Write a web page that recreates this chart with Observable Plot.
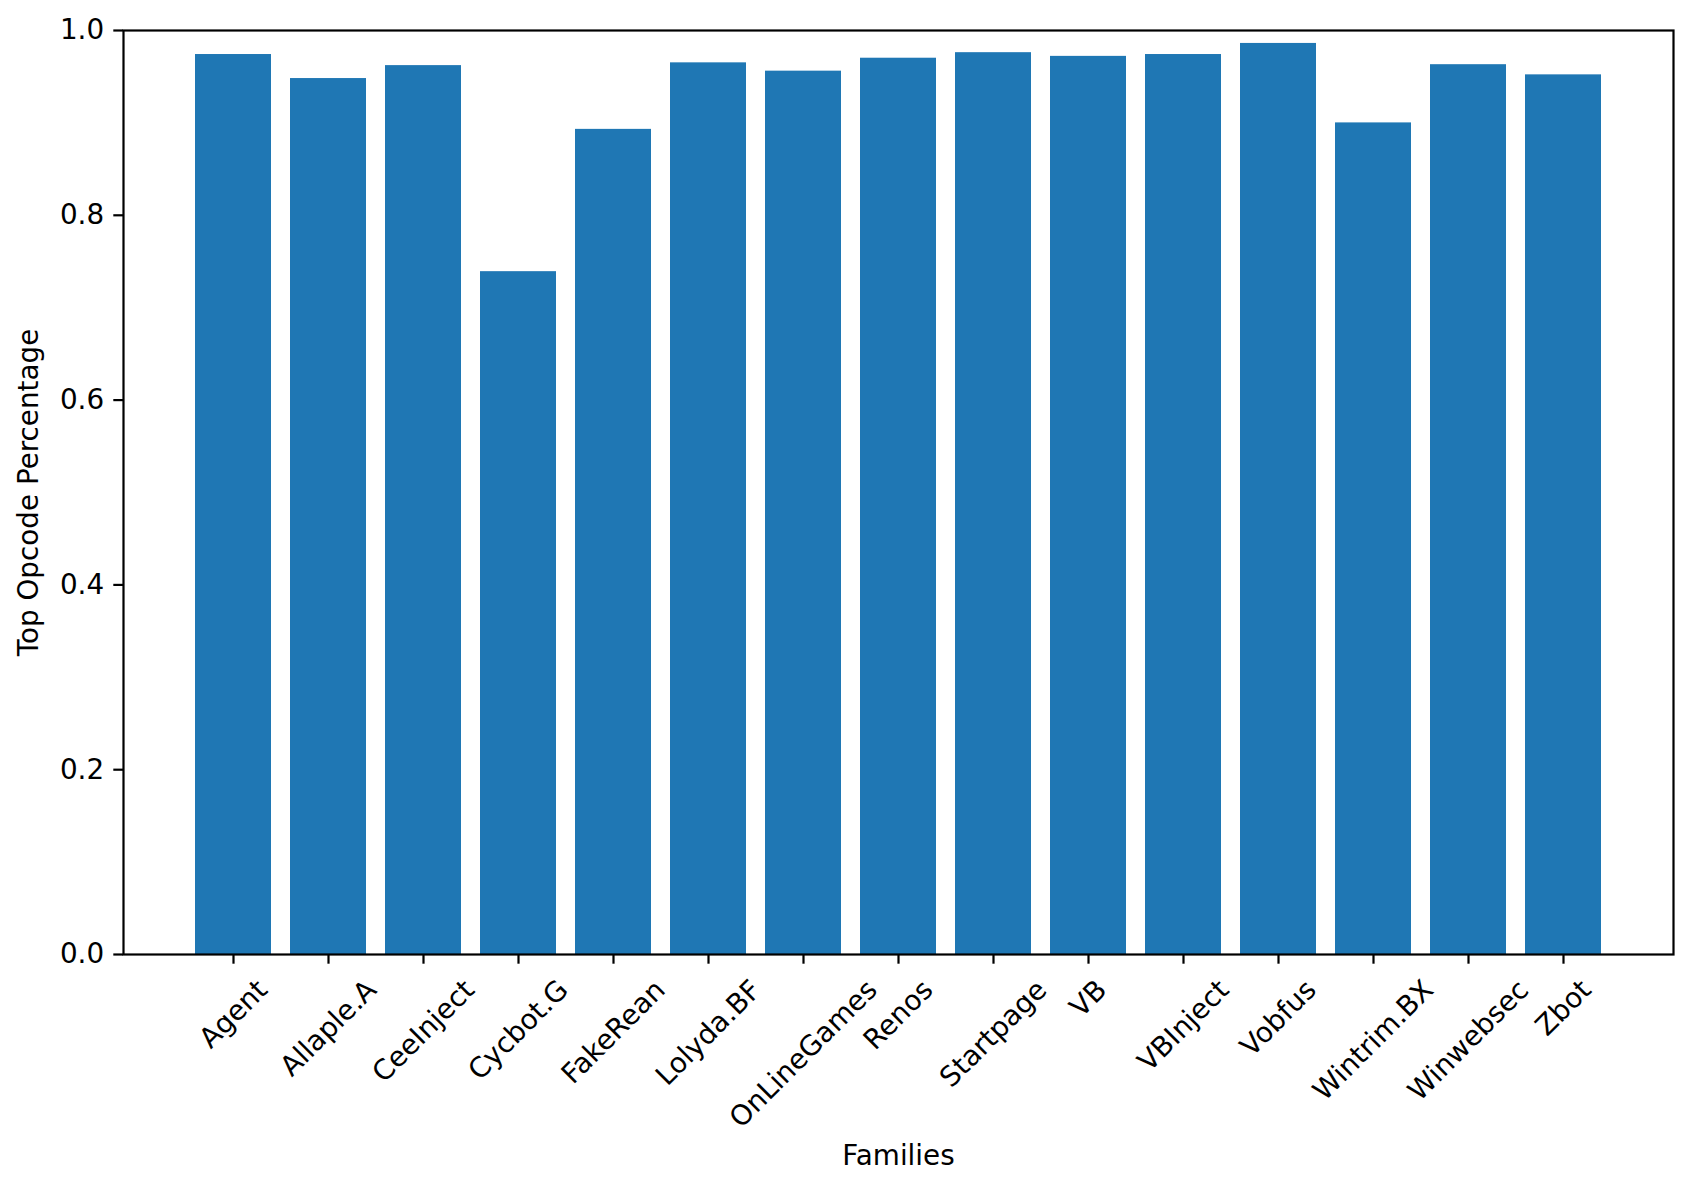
<!DOCTYPE html>
<html>
<head>
<meta charset="utf-8">
<script src="https://cdn.jsdelivr.net/npm/d3@7"></script>
<script src="https://cdn.jsdelivr.net/npm/@observablehq/plot@0.6"></script>
<style>
  html, body { margin: 0; padding: 0; background: #ffffff; }
  #chart svg { display: block; }
</style>
</head>
<body>
<div id="chart"></div>
<script>
const families = ["Agent", "Allaple.A", "CeeInject", "Cycbot.G", "FakeRean", "Lolyda.BF", "OnLineGames", "Renos", "Startpage", "VB", "VBInject", "Vobfus", "Wintrim.BX", "Winwebsec", "Zbot"];
const values = [0.974, 0.948, 0.962, 0.739, 0.893, 0.965, 0.956, 0.970, 0.976, 0.972, 0.974, 0.986, 0.900, 0.963, 0.952];
const yTicks = [0.0, 0.2, 0.4, 0.6, 0.8, 1.0];
const xLabel = "Families";
const yLabel = "Top Opcode Percentage";

const data = families.map((f, i) => ({family: f, value: values[i]}));

const FS = 27.8;
const FONT = "DejaVu Sans";
const TICK = 9.7, PAD = 9.7, LW = 2.2;
const ctx = document.createElement("canvas").getContext("2d");
ctx.font = `${FS}px "${FONT}"`;

const labelMarks = families.map(f => Plot.text([f], {
  x: d => d,
  text: d => d,
  frameAnchor: "bottom",
  rotate: -45,
  textAnchor: "middle",
  lineAnchor: "middle",
  dy: TICK + PAD + (ctx.measureText(f).width + 1.16 * FS) * Math.SQRT1_2 / 2,
  fontSize: FS,
  fill: "black"
}));

const chart = Plot.plot({
  width: 1692,
  height: 1190,
  marginLeft: 123,
  marginRight: 19,
  marginTop: 30,
  marginBottom: 236,
  style: {fontFamily: FONT, fontSize: FS + "px", background: "white", color: "black", overflow: "visible"},
  x: {type: "band", domain: families, paddingInner: 0.2, paddingOuter: 0.74, align: 0.5},
  y: {domain: [0, 1]},
  marks: [
    Plot.barY(data, {x: "family", y: "value", fill: "#1f77b4"}),
    Plot.frame({stroke: "black", strokeWidth: LW}),
    Plot.axisY({ticks: yTicks, tickFormat: d => d.toFixed(1), tickSize: TICK, tickPadding: PAD, strokeWidth: LW, label: null, fontSize: FS}),
    Plot.axisX({tickSize: TICK, tickFormat: () => "", strokeWidth: LW, label: null}),
    ...labelMarks,
    Plot.text([xLabel], {text: d => d, frameAnchor: "bottom", lineAnchor: "middle", textAnchor: "middle", dy: 202, fontSize: FS, fill: "black"}),
    Plot.text([yLabel], {text: d => d, frameAnchor: "left", rotate: -90, lineAnchor: "middle", textAnchor: "middle", dx: -94, fontSize: FS, fill: "black"})
  ]
});
document.getElementById("chart").appendChild(chart);
</script>
</body>
</html>
